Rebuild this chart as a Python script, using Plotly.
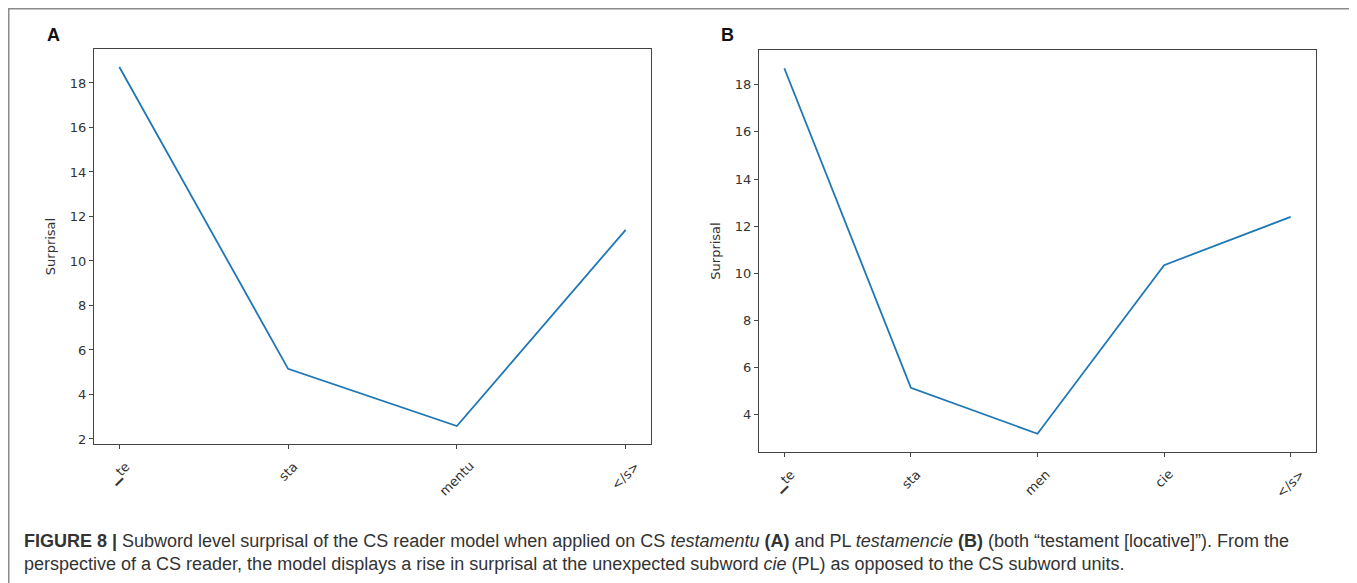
import html
import plotly.graph_objects as go

# page offset introduced by the default body margin of the html page
OX, OY = 8, 8
W, H = 1357 - OX, 583 - OY

cats_a = ["▁te", "sta", "mentu", "</s>"]
vals_a = [18.72, 5.15, 2.58, 11.4]

cats_b = ["▁te", "sta", "men", "cie", "</s>"]
vals_b = [18.7, 5.15, 3.2, 10.35, 12.4]

yticks_a = [2, 4, 6, 8, 10, 12, 14, 16, 18]
yticks_b = [4, 6, 8, 10, 12, 14, 16, 18]

caption = ("<b>FIGURE 8 |</b> Subword level surprisal of the CS reader model when applied on CS "
           "<i>testamentu</i> <b>(A)</b> and PL <i>testamencie</i> <b>(B)</b> (both “testament [locative]”). From the<br>"
           "perspective of a CS reader, the model displays a rise in surprisal at the unexpected subword "
           "<i>cie</i> (PL) as opposed to the CS subword units.")


def px_x(p):
    return (p - OX) / W


def px_y(p):
    return (H - (p - OY)) / H


line_color = "#1f77b4"
axis_color = "#444444"
text_color = "#333333"
tick_font = dict(family="DejaVu Sans", size=13, color=text_color)

fig = go.Figure()
fig.add_trace(go.Scatter(x=cats_a, y=vals_a, mode="lines", xaxis="x", yaxis="y",
                         line=dict(color=line_color, width=1.8), showlegend=False))
fig.add_trace(go.Scatter(x=cats_b, y=vals_b, mode="lines", xaxis="x2", yaxis="y2",
                         line=dict(color=line_color, width=1.8), showlegend=False))


def xaxis(domain, cats, anchor):
    n = len(cats)
    m = 0.05 * (n - 1)
    return dict(domain=domain, anchor=anchor, type="category", range=[-m, n - 1 + m],
                categoryorder="array", categoryarray=cats,
                showticklabels=False,
                showline=True, linecolor=axis_color, linewidth=1, mirror=True,
                ticks="outside", ticklen=4, tickcolor=axis_color,
                showgrid=False, zeroline=False, automargin=False)


def yaxis(domain, vals, ticks, anchor):
    lo, hi = min(vals), max(vals)
    m = 0.05 * (hi - lo)
    return dict(domain=domain, anchor=anchor, range=[lo - m, hi + m],
                tickvals=ticks, showline=True, linecolor=axis_color, linewidth=1, mirror=True,
                ticks="outside", ticklen=4, tickcolor=axis_color, tickfont=tick_font,
                showgrid=False, zeroline=False, automargin=False,
                title=dict(text="Surprisal", font=dict(family="DejaVu Sans", size=13, color=text_color),
                           standoff=11))


fig.update_layout(
    width=W, height=H, margin=dict(l=0, r=0, t=0, b=0, autoexpand=False),
    paper_bgcolor="white", plot_bgcolor="white",
    xaxis=xaxis([px_x(94), px_x(651)], cats_a, "y"),
    yaxis=yaxis([px_y(444), px_y(49)], vals_a, yticks_a, "x"),
    xaxis2=xaxis([px_x(759), px_x(1316)], cats_b, "y2"),
    yaxis2=yaxis([px_y(452), px_y(50)], vals_b, yticks_b, "x2"),
)

# rotated category labels, centred under each tick (matplotlib style)
for cats, xr, yr in [(cats_a, "x", "y domain"), (cats_b, "x2", "y2 domain")]:
    for i, c in enumerate(cats):
        fig.add_annotation(text=html.escape(c), xref=xr, yref=yr, x=i, y=0,
                           xanchor="center", yanchor="top", yshift=-12, textangle=-45,
                           showarrow=False, font=tick_font)

fig.add_shape(type="rect", xref="paper", yref="paper",
              x0=px_x(8.75), x1=px_x(1354), y0=-0.05, y1=px_y(8.75),
              line=dict(color="#8a8a8a", width=1.5), fillcolor="rgba(0,0,0,0)")

for label, xp in [("A", 45), ("B", 719)]:
    fig.add_annotation(text="<b>%s</b>" % label, xref="paper", yref="paper",
                       x=px_x(xp), y=px_y(35), xanchor="left", yanchor="middle",
                       showarrow=False, font=dict(family="Liberation Sans", size=18, color="#111111"))

fig.add_annotation(text=caption, xref="paper", yref="paper", x=px_x(22), y=px_y(552),
                   xanchor="left", yanchor="middle", align="left", showarrow=False,
                   font=dict(family="Liberation Sans", size=18, color=text_color))

fig.write_html("out.html")
